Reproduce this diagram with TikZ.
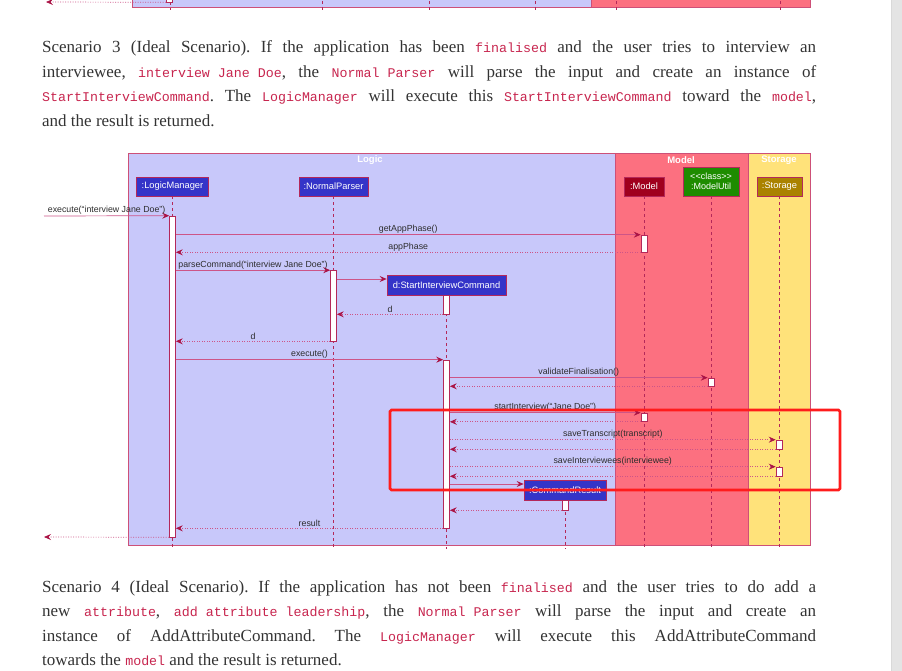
\documentclass[tikz,border=0pt]{standalone}
\usepackage{fontspec}
\setmainfont{Liberation Serif}
\setsansfont{Liberation Sans}
\setmonofont{Liberation Mono}
\usepackage{xcolor}
\definecolor{bodytext}{RGB}{51,51,51}
\definecolor{codepink}{RGB}{199,37,78}
\definecolor{logicfill}{RGB}{200,200,250}
\definecolor{modelfill}{RGB}{252,112,128}
\definecolor{storagefill}{RGB}{255,226,122}
\definecolor{lanedraw}{RGB}{205,80,120}
\definecolor{actorblue}{RGB}{52,52,200}
\definecolor{actordraw}{RGB}{180,40,90}
\definecolor{modelred}{RGB}{160,0,30}
\definecolor{utilgreen}{RGB}{30,140,0}
\definecolor{storeolive}{RGB}{170,130,0}
\definecolor{msgline}{RGB}{205,85,135}
\definecolor{msgtip}{RGB}{170,20,70}
\definecolor{labeltext}{RGB}{45,45,45}
\definecolor{highlight}{RGB}{255,28,28}
\definecolor{scrollgrey}{RGB}{228,228,228}
\usetikzlibrary{arrows.meta}

\newcommand{\inlinecode}[1]{{\fontsize{13.3}{16}\selectfont\ttfamily\color{codepink}#1}}

\begin{document}
\begin{tikzpicture}[x=1pt, y=-1pt,
  para/.style={anchor=base west, inner sep=0pt, text=bodytext, font=\fontsize{17}{20}\selectfont\frenchspacing},
  lane/.style={draw=lanedraw, line width=0.7pt},
  lanetitle/.style={text=white, font=\sffamily\bfseries\fontsize{9.5}{11}\selectfont, inner sep=0pt},
  actor/.style={draw=actordraw, fill=actorblue, text=white, font=\sffamily\fontsize{9.3}{10.5}\selectfont, inner sep=1pt, minimum height=19pt, line width=0.7pt, align=center},
  lifeline/.style={draw=actordraw, line width=0.6pt, dash pattern=on 3pt off 3pt},
  actbar/.style={draw=actordraw, fill=white, line width=0.6pt, minimum width=6pt, inner sep=0pt},
  msg/.style={draw=msgline, line width=0.7pt, -{Stealth[length=7pt, width=6pt, inset=2.5pt, color=msgtip]}},
  ret/.style={msg, dash pattern=on 1pt off 1.5pt},
  lbl/.style={above, inner sep=1pt, text=labeltext, font=\sffamily\fontsize{8.8}{10}\selectfont}
]
\useasboundingbox (0,0) rectangle (902,671);
\clip (0,0) rectangle (902,671);

% tail of the previous figure
\draw[lane, fill=logicfill] (132,-5) rectangle (591,7);
\draw[lane, fill=modelfill] (591,-5) rectangle (810,7);
\foreach \lx in {322,429,535,616,780} \draw[lifeline] (\lx,-5) -- (\lx,10);
\draw[lifeline] (170,2) -- (170,10);
\node[actbar, minimum height=8pt] (prevact) at (169.5,-2) {};
\coordinate (prevout) at (46,2);
\draw[ret] (prevact.south west) -- (prevout);

% scenario 3 text
\node[para] (scthreea) at (42,53) {\makebox[774pt][s]{Scenario 3 (Ideal Scenario). If the application has been \inlinecode{finalised} and the user tries to interview an}};
\node[para] (scthreeb) at (42,77.5) {\makebox[774pt][s]{interviewee, \inlinecode{interview Jane Doe}, the \inlinecode{Normal Parser} will parse the input and create an instance of}};
\node[para] (scthreec) at (42,102) {\makebox[774pt][s]{\inlinecode{StartInterviewCommand}. The \inlinecode{LogicManager} will execute this \inlinecode{StartInterviewCommand} toward the \inlinecode{model},}};
\node[para] (scthreed) at (42,126.5) {and the result is returned.};

% lanes
\draw[lane, fill=logicfill] (128,153) rectangle (615,545);
\draw[lane, fill=modelfill] (615,153) rectangle (748,545);
\draw[lane, fill=storagefill] (748,153) rectangle (810,545);
\node[lanetitle] (logictitle) at (370,160) {Logic};
\node[lanetitle] (modeltitle) at (681,160) {Model};
\node[lanetitle] (storagetitle) at (779,160) {Storage};

% participants
\node[actor, minimum width=72pt] (lm) at (172.5,186.5) {:LogicManager};
\node[actor, minimum width=69pt] (np) at (333.5,186.5) {:NormalParser};
\node[actor, minimum width=40pt, fill=modelred] (md) at (644,186.5) {:Model};
\node[actor, minimum width=56pt, minimum height=29pt, fill=utilgreen, font=\sffamily\fontsize{9}{10.5}\selectfont] (mu) at (711,181.5) {<{}<class>{}>\\:ModelUtil};
\node[actor, minimum width=45pt, fill=storeolive] (st) at (779.5,186.5) {:Storage};
\node[actor, minimum width=119pt, minimum height=20pt] (sic) at (446.5,285) {d:StartInterviewCommand};
\node[actor, minimum width=82pt, minimum height=20pt] (cr) at (565,490) {:CommandResult};

\foreach \p in {lm,np,md,mu,st,sic,cr} \draw[lifeline] (\p.south) -- (\p.south |- 0,549);

% activations
\node[actbar, minimum height=321pt] (lmact) at (172.5,376.5) {};
\node[actbar, minimum height=17pt] (mdactone) at (644,243.5) {};
\node[actbar, minimum height=70.5pt] (npact) at (333.5,305.75) {};
\node[actbar, minimum height=19pt] (sicactone) at (446.5,304.5) {};
\node[actbar, minimum height=168pt] (sicacttwo) at (446.5,444) {};
\node[actbar, minimum height=8pt] (muact) at (711,382) {};
\node[actbar, minimum height=8.5pt] (mdacttwo) at (644,417.25) {};
\node[actbar, minimum height=9pt] (stactone) at (779,444.5) {};
\node[actbar, minimum height=9pt] (stacttwo) at (779,471.5) {};
\node[actbar, minimum height=10pt] (cract) at (565,505) {};

% messages
\coordinate (userin) at (44,216);
\coordinate (userout) at (44,537);
\draw[msg] (userin) -- node[lbl] {execute(``interview Jane Doe'')} (lmact.north west);
\draw[msg] (lmact.east |- mdactone.north) -- node[lbl] {getAppPhase()} (mdactone.north west);
\draw[ret] (mdactone.south west) -- node[lbl] {appPhase} (lmact.east |- mdactone.south);
\draw[msg] (lmact.east |- npact.north) -- node[lbl] {parseCommand(``interview Jane Doe'')} (npact.north west);
\draw[msg] (npact.east |- 0,279) -- (sic.west |- 0,279);
\draw[ret] (sicactone.south west) -- node[lbl] {d} (npact.east |- sicactone.south);
\draw[ret] (npact.south west) -- node[lbl] {d} (lmact.east |- npact.south);
\draw[msg] (lmact.east |- sicacttwo.north) -- node[lbl] {execute()} (sicacttwo.north west);
\draw[msg] (sicacttwo.east |- muact.north) -- node[lbl] {validateFinalisation()} (muact.north west);
\draw[ret] (muact.south west) -- (sicacttwo.east |- muact.south);
\draw[msg] (sicacttwo.east |- mdacttwo.north) -- node[lbl] {startInterview(``Jane Doe'')} (mdacttwo.north west);
\draw[ret] (mdacttwo.south west) -- (sicacttwo.east |- mdacttwo.south);
\draw[ret] (sicacttwo.east |- stactone.north) -- node[lbl] {saveTranscript(transcript)} (stactone.north west);
\draw[ret] (stactone.south west) -- (sicacttwo.east |- stactone.south);
\draw[ret] (sicacttwo.east |- stacttwo.north) -- node[lbl] {saveInterviewees(interviewee)} (stacttwo.north west);
\draw[ret] (stacttwo.south west) -- (sicacttwo.east |- stacttwo.south);
\draw[msg] (sicacttwo.east |- 0,484) -- (cr.west |- 0,484);
\draw[ret] (cract.south west) -- (sicacttwo.east |- cract.south);
\draw[ret] (sicacttwo.south west) -- node[lbl] {result} (lmact.east |- sicacttwo.south);
\draw[ret] (lmact.south west) -- (userout);

% red highlight
\draw[highlight, line width=2.6pt, rounded corners=1.5pt] (390,410) rectangle (840,490);

% scenario 4 text
\node[para] (scfoura) at (42,592) {\makebox[774pt][s]{Scenario 4 (Ideal Scenario). If the application has not been \inlinecode{finalised} and the user tries to do add a}};
\node[para] (scfourb) at (42,616.5) {\makebox[774pt][s]{new \inlinecode{attribute}, \inlinecode{add attribute leadership}, the \inlinecode{Normal Parser} will parse the input and create an}};
\node[para] (scfourc) at (42,641) {\makebox[774pt][s]{instance of AddAttributeCommand. The \inlinecode{LogicManager} will execute this AddAttributeCommand}};
\node[para] (scfourd) at (42,665.5) {towards the \inlinecode{model} and the result is returned.};

% scrollbar
\fill[scrollgrey] (891,0) rectangle (902,671);
\draw[black!15, line width=0.4pt] (891,0) -- (891,671);
\end{tikzpicture}
\end{document}
